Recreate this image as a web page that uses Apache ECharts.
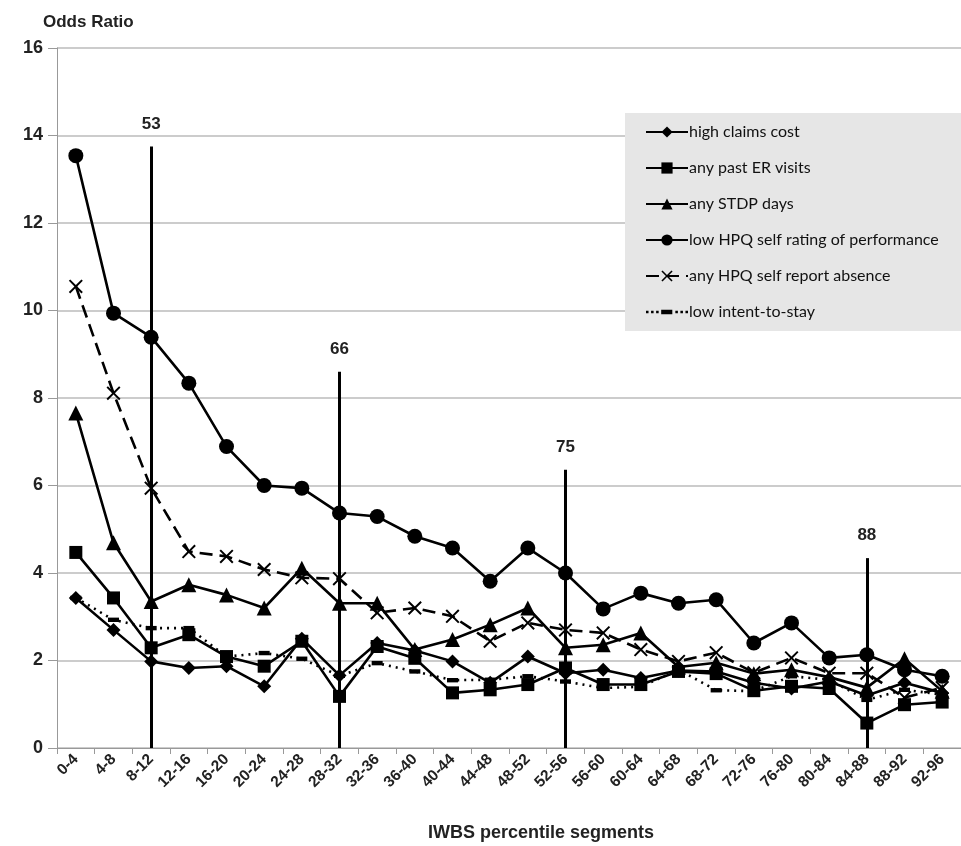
<!DOCTYPE html>
<html>
<head>
<meta charset="utf-8">
<script src="https://cdn.jsdelivr.net/npm/echarts@6/dist/echarts.min.js"></script>
<style>
html,body{margin:0;padding:0;background:#fff;}
#chart{width:961px;height:846px;}
</style>
</head>
<body>
<div id="chart"></div>
<script>
var categories = ['0-4','4-8','8-12','12-16','16-20','20-24','24-28','28-32','32-36','36-40','40-44','44-48','48-52','52-56','56-60','60-64','64-68','68-72','72-76','76-80','80-84','84-88','88-92','92-96'];

var highClaimsCost = [3.43,2.70,1.98,1.83,1.87,1.41,2.50,1.66,2.40,2.23,1.98,1.49,2.09,1.71,1.79,1.60,1.77,1.75,1.49,1.36,1.52,1.20,1.49,1.26];
var pastERVisits   = [4.47,3.43,2.29,2.59,2.09,1.87,2.44,1.18,2.32,2.05,1.26,1.33,1.45,1.83,1.45,1.45,1.75,1.70,1.31,1.41,1.36,0.57,0.99,1.05];
var stdpDays       = [7.66,4.69,3.35,3.73,3.50,3.20,4.11,3.31,3.31,2.25,2.48,2.82,3.20,2.29,2.36,2.63,1.85,1.95,1.70,1.79,1.62,1.38,2.04,1.30];
var lowHPQRating   = [13.54,9.94,9.39,8.34,6.89,6.00,5.94,5.37,5.29,4.84,4.57,3.81,4.57,4.00,3.18,3.54,3.31,3.39,2.40,2.86,2.06,2.13,1.79,1.64];
var hpqAbsence     = [10.55,8.11,5.94,4.49,4.38,4.08,3.89,3.87,3.09,3.20,3.01,2.44,2.86,2.70,2.63,2.25,1.98,2.18,1.72,2.06,1.71,1.71,1.15,1.38];
var lowIntentStay  = [3.43,2.93,2.74,2.74,2.09,2.17,2.04,1.65,1.94,1.75,1.55,1.56,1.64,1.52,1.37,1.40,1.79,1.32,1.30,1.64,1.56,1.10,1.33,1.22];

var seriesNames = ['high claims cost','any past ER visits','any STDP days','low HPQ self rating of performance','any HPQ self report absence','low intent-to-stay'];

var cutoffCategories = ['8-12','28-32','52-56','84-88'];
var cutoffHeights = [13.75,8.6,6.36,4.34];
var cutoffLabels = ['53','66','75','88'];

var yTicks = {min:0, max:16, interval:2};

var FONT = 'Lato, "Liberation Sans", sans-serif';
var BFONT = '"Liberation Sans", Arial, sans-serif';
var xSym = 'path://M2,0 L10,8 L18,0 L20,2 L12,10 L20,18 L18,20 L10,12 L2,20 L0,18 L8,10 L0,2 Z';
var dashSym = 'path://M0,0 L10,0 L10,4 L0,4 Z';
var dottedLegendIcon = 'path://M0,1h2.5v2.5h-2.5z M5,1h2.5v2.5h-2.5z M10,1h2.5v2.5h-2.5z M15,0h11v4.5h-11z M29,1h2.5v2.5h-2.5z M34,1h2.5v2.5h-2.5z M39,1h2.5v2.5h-2.5z';

function lineSeries(name, data, symbol, size, lineType){
  return {
    name: name, type: 'line', data: data,
    symbol: symbol, symbolSize: size,
    symbolKeepAspect: true,
    showSymbol: true,
    color: '#000',
    itemStyle: {color:'#000', opacity:1},
    lineStyle: {color:'#000', width: 2.6, type: lineType || 'solid'},
    emphasis: {disabled:true},
    animation: false
  };
}

var markData = cutoffCategories.map(function(c, i){
  return [
    {coord:[c, 0]},
    {coord:[c, cutoffHeights[i]], label:{formatter: cutoffLabels[i]}}
  ];
});

var series = [
  lineSeries(seriesNames[0], highClaimsCost, 'diamond', 14),
  lineSeries(seriesNames[1], pastERVisits, 'rect', 13),
  lineSeries(seriesNames[2], stdpDays, 'triangle', 15),
  lineSeries(seriesNames[3], lowHPQRating, 'circle', 15),
  lineSeries(seriesNames[4], hpqAbsence, xSym, 14, [13,7]),
  lineSeries(seriesNames[5], lowIntentStay, dashSym, 11, [2,5])
];
series[0].markLine = {
  silent: true,
  symbol: ['none','none'],
  lineStyle: {color:'#000', width: 3, type:'solid'},
  label: {show:true, position:'end', distance: 14, color:'#222', fontFamily: BFONT, fontWeight:'bold', fontSize: 17},
  data: markData,
  animation: false
};

var legendData = seriesNames.map(function(n, i){
  return i === 5 ? {name: n, icon: dottedLegendIcon} : {name: n};
});

var chart = echarts.init(document.getElementById('chart'), null, {renderer:'canvas'});
chart.setOption({
  backgroundColor: '#fff',
  animation: false,
  title: [
    {text:'Odds Ratio', left: 38, top: 9, textStyle:{fontFamily:BFONT, fontWeight:'bold', fontSize:17, color:'#222'}},
    {text:'IWBS percentile segments', left: 536, top: 819, textAlign:'center', textStyle:{fontFamily:BFONT, fontWeight:'bold', fontSize:18, color:'#222'}}
  ],
  legend: {
    data: legendData,
    orient: 'vertical',
    left: 625, top: 113,
    padding: [10, 40, 10, 20],
    backgroundColor: '#e6e6e6',
    itemWidth: 42, itemHeight: 14,
    itemGap: 18,
    selectedMode: false,
    textStyle: {fontFamily: FONT, fontSize: 16, color:'#111', lineHeight: 18, padding:[0,0,0,-4]}
  },
  grid: {left: 57, top: 48, width: 909, height: 700, containLabel: false},
  xAxis: {
    type: 'category', data: categories, boundaryGap: true,
    axisLine: {lineStyle:{color:'#999', width:1}},
    axisTick: {show:true, length: 6, lineStyle:{color:'#999'}},
    axisLabel: {rotate: 45, margin: 9, interval: 0, fontFamily: BFONT, fontWeight:'bold', fontSize: 15.5, color:'#222'},
    splitLine: {show:false}
  },
  yAxis: {
    type: 'value', min: yTicks.min, max: yTicks.max, interval: yTicks.interval,
    axisLine: {show:true, lineStyle:{color:'#999', width:1}},
    axisTick: {show:true, length: 9, lineStyle:{color:'#999'}},
    axisLabel: {margin: 14, fontFamily: BFONT, fontWeight:'bold', fontSize: 18, color:'#222'},
    splitLine: {show:true, lineStyle:{color:'#bbb', width:1.5}}
  },
  series: series
});
</script>
</body>
</html>
